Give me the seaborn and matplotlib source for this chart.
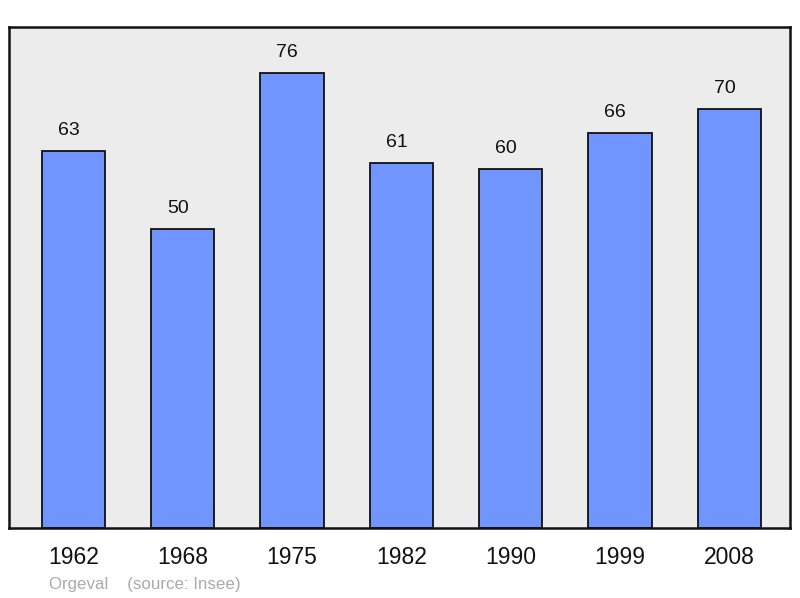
import matplotlib
matplotlib.use("Agg")
import matplotlib.pyplot as plt
import seaborn as sns
import pandas as pd

years = ["1962", "1968", "1975", "1982", "1990", "1999", "2008"]
population = [63, 50, 76, 61, 60, 66, 70]

df = pd.DataFrame({"year": years, "pop": population})

sns.set_style("white")
plt.rcParams["font.family"] = ["Liberation Sans", "DejaVu Sans"]

fig = plt.figure(figsize=(8, 5.98), dpi=100)
ax = fig.add_axes([0.01125, 0.117, 0.976, 0.838])
ax.set_facecolor("#ececec")

sns.barplot(data=df, x="year", y="pop", color="#7095ff", width=0.58,
            edgecolor="#111111", linewidth=1.3, saturation=1, ax=ax)

# value labels sit a little left of the bar centre, as in the original
for i, v in enumerate(population):
    ax.annotate(str(v), (i, v), xytext=(-3.5, 14.5), textcoords="offset points",
                ha="center", va="center", fontsize=14, color="#111111")

ax.set_xlim(-0.588, 6.552)
ax.set_ylim(0, 83.7)
ax.set_xlabel("")
ax.set_ylabel("")
ax.set_yticks([])
ax.tick_params(axis="x", length=0, pad=13, labelsize=16.5, labelcolor="#111111")
for s in ax.spines.values():
    s.set_visible(True)
    s.set_color("#111111")
    s.set_linewidth(1.8)

fig.text(49 / 800, 1 - 584 / 598, "Orgeval    (source: Insee)", fontsize=12.2,
         color="#aaaaaa", ha="left", va="center")

fig.savefig("out.png", dpi=100)
